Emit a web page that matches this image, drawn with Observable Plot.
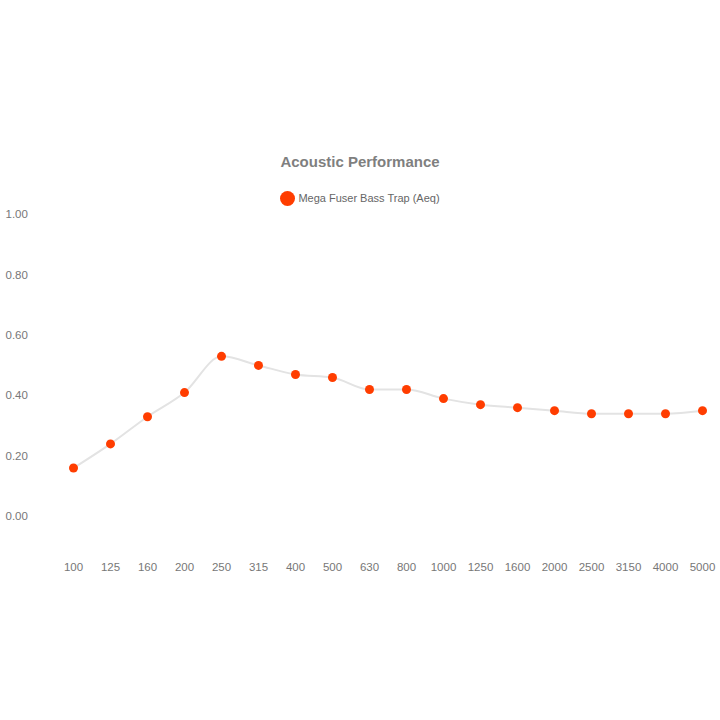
<!DOCTYPE html>
<html>
<head>
<meta charset="utf-8">
<script src="https://cdn.jsdelivr.net/npm/d3@7"></script>
<script src="https://cdn.jsdelivr.net/npm/@observablehq/plot@0.6"></script>
<style>
  body { margin: 0; background: #fff; font-family: "Liberation Sans", Arial, sans-serif; }
  #wrap { width: 720px; height: 720px; position: relative; }
  #title { position: absolute; top: 153px; left: 0; width: 720px; text-align: center; font-size: 15px; font-weight: bold; color: #7f7f7f; }
  #legend { position: absolute; top: 192px; left: 0; width: 720px; text-align: center; font-size: 11px; color: #666; }
  #legend span.dot { display: inline-block; width: 15px; height: 15px; border-radius: 50%; background: #ff3d00; vertical-align: middle; margin-right: 3px; position: relative; top: -1px; }
  #chart { position: absolute; top: 200px; left: 0; }
</style>
</head>
<body>
<div id="wrap">
  <div id="title">Acoustic Performance</div>
  <div id="legend"><span class="dot"></span>Mega Fuser Bass Trap (Aeq)</div>
  <div id="chart"></div>
</div>
<script>
const frequencies = ["100","125","160","200","250","315","400","500","630","800","1000","1250","1600","2000","2500","3150","4000","5000"];
const absorption = [0.16,0.24,0.33,0.41,0.53,0.50,0.47,0.46,0.42,0.42,0.39,0.37,0.36,0.35,0.34,0.34,0.34,0.35];
const yTicks = [0, 0.2, 0.4, 0.6, 0.8, 1.0];
const seriesName = "Mega Fuser Bass Trap (Aeq)";

const data = frequencies.map((f, i) => ({freq: f, value: absorption[i], series: seriesName}));

const chart = Plot.plot({
  width: 720,
  height: 380,
  marginLeft: 67,
  marginRight: 12,
  marginTop: 14,
  marginBottom: 34,
  style: {fontFamily: "Liberation Sans, Arial, sans-serif", fontSize: "11.5px", color: "#777", background: "transparent"},
  x: {type: "point", domain: frequencies, padding: 0, label: null},
  y: {domain: [-0.1, 1.0], label: null},
  marks: [
    Plot.axisY({ticks: yTicks, tickFormat: d => d.toFixed(2), tickSize: 0, tickPadding: 0, textAnchor: "start", dx: -62, fill: "#777"}),
    Plot.axisX({tickSize: 0, tickPadding: 16, fill: "#777"}),
    Plot.line(data, {x: "freq", y: "value", stroke: "#e3e3e3", strokeWidth: 2, curve: "monotone-x"}),
    Plot.dot(data, {x: "freq", y: "value", r: 4.5, fill: "#ff3d00", stroke: "none"})
  ]
});
document.getElementById("chart").appendChild(chart);
</script>
</body>
</html>
